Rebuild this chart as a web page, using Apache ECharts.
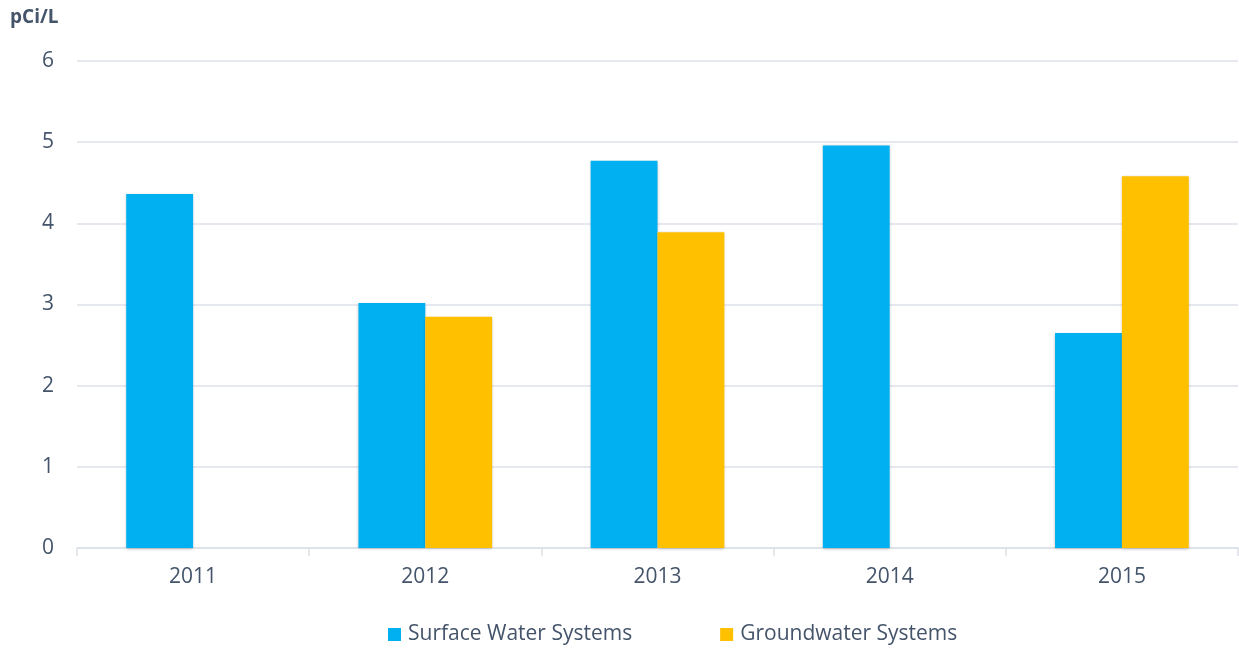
<!DOCTYPE html>
<html>
<head>
<meta charset="utf-8">
<script src="https://cdn.jsdelivr.net/npm/echarts@6/dist/echarts.min.js"></script>
<style>
  html, body { margin: 0; padding: 0; background: #fff; }
  #chart { width: 1239px; height: 648px; }
</style>
</head>
<body>
<div id="chart"></div>
<script>
const years = ['2011', '2012', '2013', '2014', '2015']
const surfaceWater = [4.36, 3.02, 4.77, 4.96, 2.65]
const groundwater = [null, 2.85, 3.89, null, 4.58]
const yTicks = [0, 1, 2, 3, 4, 5, 6]

const textColor = '#44546A'
const lineColor = '#DCE1E8'
const font = '"Open Sans", sans-serif'

const chart = echarts.init(document.getElementById('chart'))

const barShadow = {
  shadowBlur: 3,
  shadowColor: 'rgba(0,0,0,0.25)',
  shadowOffsetY: 1
}

chart.setOption({
  animation: false,
  backgroundColor: '#fff',
  title: {
    text: 'pCi/L',
    left: 10,
    top: 8,
    padding: 0,
    textStyle: { color: textColor, fontFamily: font, fontSize: 19, fontWeight: 'bold' }
  },
  legend: {
    bottom: 3,
    left: 388,
    padding: 0,
    itemWidth: 13,
    itemHeight: 13,
    itemGap: 88,
    icon: 'rect',
    textStyle: { color: textColor, fontFamily: font, fontSize: 21, padding: [0, 0, 0, 2] },
    data: ['Surface Water Systems', 'Groundwater Systems']
  },
  grid: { left: 77, right: 1, top: 61, bottom: 100, containLabel: false },
  xAxis: {
    type: 'category',
    data: years,
    axisLine: { lineStyle: { color: lineColor, width: 1.5 } },
    axisTick: { show: true, length: 8, lineStyle: { color: lineColor, width: 1.5 } },
    axisLabel: { color: textColor, fontFamily: font, fontSize: 21, margin: 19 }
  },
  yAxis: {
    type: 'value',
    min: yTicks[0],
    max: yTicks[yTicks.length - 1],
    interval: 1,
    axisLine: { show: false },
    axisTick: { show: false },
    axisLabel: { color: textColor, fontFamily: font, fontSize: 21, margin: 23 },
    splitLine: { lineStyle: { color: lineColor, width: 1.5 } }
  },
  series: [
    {
      name: 'Surface Water Systems',
      type: 'bar',
      data: surfaceWater,
      barWidth: '28.8%',
      barGap: '0%',
      itemStyle: Object.assign({ color: '#00B0F0' }, barShadow)
    },
    {
      name: 'Groundwater Systems',
      type: 'bar',
      data: groundwater,
      barWidth: '28.8%',
      barGap: '0%',
      itemStyle: Object.assign({ color: '#FFC000' }, barShadow)
    }
  ]
})
</script>
</body>
</html>
